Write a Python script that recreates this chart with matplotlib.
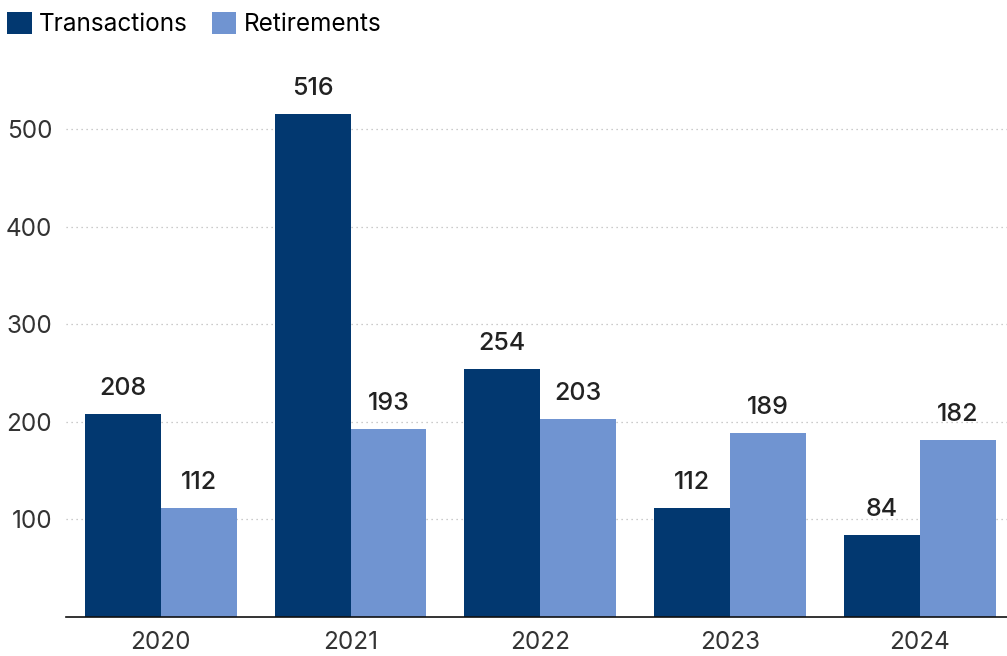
import matplotlib.pyplot as plt
import numpy as np

plt.rcParams['font.family'] = ['Inter', 'DejaVu Sans']

years = ['2020', '2021', '2022', '2023', '2024']
transactions = [208, 516, 254, 112, 84]
retirements = [112, 193, 203, 189, 182]

dark = '#023870'
light = '#7094d1'

fig = plt.figure(figsize=(10.07, 6.56), dpi=100)
ax = fig.add_axes([0.0655, 0.0595, 0.9345, 0.862])

x = np.arange(len(years))
w = 0.4
b1 = ax.bar(x - w / 2, transactions, w, color=dark, label='Transactions')
b2 = ax.bar(x + w / 2, retirements, w, color=light, label='Retirements')

for bars in (b1, b2):
    for bar in bars:
        h = bar.get_height()
        ax.annotate(str(int(h)), (bar.get_x() + bar.get_width() / 2, h),
                    xytext=(0, 10), textcoords='offset points',
                    ha='center', va='bottom', fontsize=18,
                    fontweight='medium', color='#222222')

ax.set_xlim(-0.5, 4.46)
ax.set_ylim(0, 580)
ax.set_yticks([100, 200, 300, 400, 500])
ax.set_xticks(x)
ax.set_xticklabels(years)
ax.tick_params(axis='both', length=0, labelsize=17.5, labelcolor='#333333')
ax.tick_params(axis='x', pad=10)
ax.tick_params(axis='y', pad=10)
ax.grid(axis='y', linestyle=(0, (1, 3)), color='#bbbbbb', linewidth=0.9)
ax.set_axisbelow(True)
for s in ['top', 'right', 'left']:
    ax.spines[s].set_visible(False)
ax.spines['bottom'].set_color('#111111')
ax.spines['bottom'].set_linewidth(1.2)

fig.legend(loc='upper left', bbox_to_anchor=(0.0, 0.993), ncol=2, frameon=False,
           fontsize=17.5, handlelength=1.0, handleheight=1.0,
           handletextpad=0.3, columnspacing=1.0, borderaxespad=0.1,
           borderpad=0.2)

fig.savefig('out.png', dpi=100)
